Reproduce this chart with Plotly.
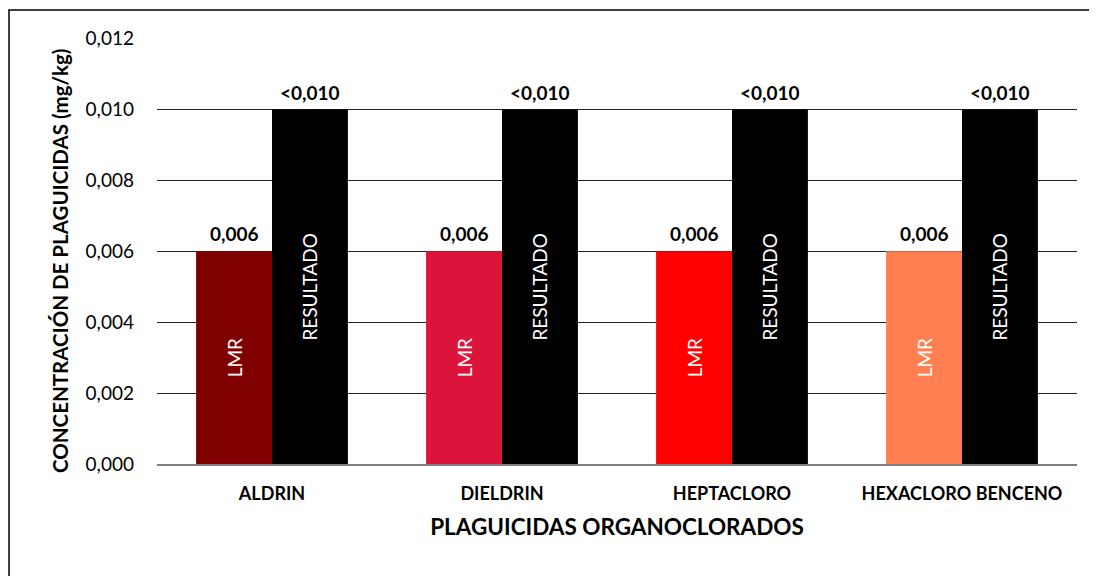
import plotly.graph_objects as go

categories = ["ALDRIN", "DIELDRIN", "HEPTACLORO", "HEXACLORO BENCENO"]
lmr_values = [0.006, 0.006, 0.006, 0.006]
resultado_values = [0.010, 0.010, 0.010, 0.010]
lmr_labels = ["0,006", "0,006", "0,006", "0,006"]
resultado_labels = ["<0,010", "<0,010", "<0,010", "<0,010"]
lmr_colors = ["#800000", "#DC143C", "#FF0000", "#FF7F50"]
resultado_color = "#000000"

FONT = "Lato, Calibri, Arial, sans-serif"

# The page body has an 8px margin, so the figure is placed at (8, 8) in the window.
OFF = 8
W, H = 1097 - OFF, 576 - OFF
L, R, T, B = 157 - OFF, 20, 38 - OFF, 112
PW, PH = W - L - R, H - T - B

fig = go.Figure()
fig.add_trace(go.Bar(
    x=categories, y=lmr_values, name="LMR",
    marker=dict(color=lmr_colors, line=dict(width=0)),
    text=["LMR"] * len(categories), textposition="inside",
    insidetextanchor="middle", textangle=-90,
    textfont=dict(color="white", size=19, family=FONT),
    hoverinfo="skip",
))
fig.add_trace(go.Bar(
    x=categories, y=resultado_values, name="RESULTADO",
    marker=dict(color=resultado_color, line=dict(width=0)),
    text=["RESULTADO"] * len(categories), textposition="inside",
    insidetextanchor="middle", textangle=-90,
    textfont=dict(color="white", size=19, family=FONT),
    hoverinfo="skip",
))

annotations = []
for c, v, lab in zip(categories, lmr_values, lmr_labels):
    annotations.append(dict(x=c, y=v, xref="x", yref="y", text="<b>%s</b>" % lab,
                            showarrow=False, xshift=-38, yanchor="bottom", yshift=4,
                            font=dict(size=19, color="black", family=FONT)))
for c, v, lab in zip(categories, resultado_values, resultado_labels):
    annotations.append(dict(x=c, y=v, xref="x", yref="y", text="<b>%s</b>" % lab,
                            showarrow=False, xshift=38, yanchor="bottom", yshift=4,
                            font=dict(size=19, color="black", family=FONT)))
# y-axis title
annotations.append(dict(x=(60 - 157) / PW, y=(464 - 261) / PH, xref="paper", yref="paper",
                        text="<b>CONCENTRACIÓN DE PLAGUICIDAS (mg/kg)</b>", textangle=-90,
                        showarrow=False, xanchor="center", yanchor="middle",
                        font=dict(size=20.5, color="black", family=FONT)))

fig.update_layout(
    width=W, height=H,
    margin=dict(l=L, r=R, t=T, b=B, autoexpand=False),
    paper_bgcolor="white", plot_bgcolor="white",
    barmode="group", bargap=0.34, bargroupgap=0,
    showlegend=False,
    separators=",.",
    font=dict(family=FONT, color="black"),
    annotations=annotations,
    xaxis=dict(
        showgrid=False, showline=True, linecolor="#808080", linewidth=1.5,
        ticks="", tickfont=dict(size=18, family=FONT, color="black"),
        tickprefix="<b>", ticksuffix="</b>",
        ticklabelstandoff=13,
        title=dict(text="<b>PLAGUICIDAS ORGANOCLORADOS</b>",
                   font=dict(size=22.5, family=FONT, color="black"), standoff=16),
    ),
    yaxis=dict(
        range=[0, 0.01202], tickvals=[0, 0.002, 0.004, 0.006, 0.008, 0.010, 0.012],
        tickformat=".3f",
        showgrid=True, gridcolor="#222222", gridwidth=1,
        zeroline=False, showline=False,
        tickfont=dict(size=19, family=FONT, color="black"),
        ticklabelstandoff=22,
    ),
    shapes=[dict(type="rect", xref="paper", yref="paper",
                 x0=(9 - 157) / PW, x1=1.1, y0=-0.4, y1=1 + 28 / PH,
                 line=dict(color="black", width=1.5), fillcolor="rgba(0,0,0,0)",
                 layer="below")],
)

fig.write_html("out.html")
